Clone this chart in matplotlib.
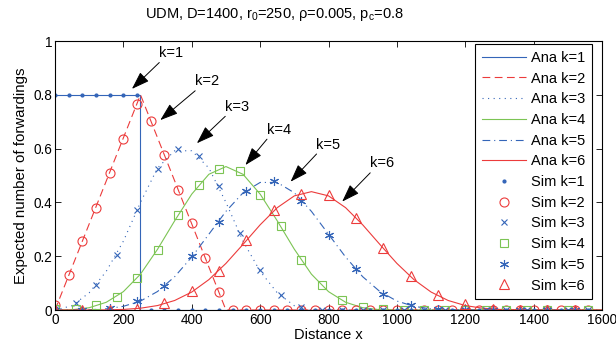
import matplotlib
matplotlib.use('Agg')
import matplotlib.pyplot as plt
import numpy as np

plt.rcParams['font.family'] = ['Liberation Sans', 'DejaVu Sans']
plt.rcParams['mathtext.fontset'] = 'custom'
plt.rcParams['mathtext.rm'] = 'Liberation Sans'
plt.rcParams['mathtext.it'] = 'Liberation Sans'

#%% analytic curves (grid of 50 m)
ana_x = np.arange(0, 1601, 50)
ana_x1 = [0, 250, 250, 1600]
ana_k1 = [0.8, 0.8, 0, 0]
ana_k2 = [0, 0.16, 0.32, 0.48, 0.64, 0.8, 0.64, 0.48, 0.32, 0.16, 0,
          0, 0, 0, 0, 0, 0, 0, 0, 0, 0, 0, 0, 0, 0, 0, 0, 0, 0, 0, 0, 0, 0]
ana_k3 = [0, 0.016, 0.064, 0.144, 0.256, 0.4, 0.528, 0.592, 0.592, 0.528, 0.4,
          0.256, 0.144, 0.064, 0.016, 0, 0, 0, 0, 0, 0, 0, 0, 0, 0, 0, 0, 0, 0, 0,
          0, 0, 0]
ana_k4 = [0, 0.0011, 0.0085, 0.0288, 0.0683, 0.1333, 0.2261, 0.3317, 0.4309, 0.5045,
          0.5333, 0.5045, 0.4309, 0.3317, 0.2261, 0.1333, 0.0683, 0.0288, 0.0085, 0.0011,
          0, 0, 0, 0, 0, 0, 0, 0, 0, 0, 0, 0, 0]
ana_k5 = [0, 0.0001, 0.0009, 0.0043, 0.0137, 0.0333, 0.0689, 0.1238, 0.1969, 0.2817,
          0.3667, 0.4358, 0.4742, 0.4742, 0.4358, 0.3667, 0.2817, 0.1969, 0.1238, 0.0689,
          0.0333, 0.0137, 0.0043, 0.0009, 0.0001, 0, 0, 0, 0, 0, 0, 0, 0]
ana_k6 = [0, 0, 0.0001, 0.0005, 0.0022, 0.0067, 0.0166, 0.0354, 0.0668, 0.1129,
          0.1733, 0.2441, 0.3167, 0.3804, 0.4243, 0.44, 0.4243, 0.3804, 0.3167, 0.2441,
          0.1733, 0.1129, 0.0668, 0.0354, 0.0166, 0.0067, 0.0022, 0.0005, 0.0001, 0, 0,
          0, 0]

#%% simulation points
sim_x12 = np.arange(0, 1561, 40)
sim_k1 = [0.8, 0.8, 0.8, 0.8, 0.8, 0.8, 0.8, 0, 0, 0, 0, 0, 0, 0, 0, 0, 0, 0, 0, 0,
          0, 0, 0, 0, 0, 0, 0, 0, 0, 0, 0, 0, 0, 0, 0, 0, 0, 0, 0, 0]
sim_k2 = [0.02, 0.13, 0.256, 0.38, 0.51, 0.637, 0.764, 0.703, 0.576, 0.447, 0.323,
          0.195, 0.067, 0, 0, 0, 0, 0, 0, 0, 0, 0, 0, 0, 0, 0, 0, 0, 0, 0, 0, 0, 0,
          0, 0, 0, 0, 0, 0, 0]
sim_x34 = np.arange(0, 1561, 60)
sim_k3 = [0.003, 0.027, 0.092, 0.205, 0.37, 0.525, 0.597, 0.573, 0.46, 0.285, 0.148,
          0.055, 0.012, 0, 0, 0, 0, 0, 0, 0, 0, 0, 0, 0, 0, 0, 0]
sim_k4 = [0.003, 0.005, 0.017, 0.05, 0.12, 0.223, 0.353, 0.463, 0.525, 0.515, 0.428,
          0.313, 0.187, 0.093, 0.038, 0.012, 0.002, 0, 0, 0, 0, 0, 0, 0, 0, 0, 0]
sim_x56 = np.arange(0, 1521, 80)
sim_k5 = [0, 0.001, 0.006, 0.032, 0.09, 0.2, 0.328, 0.443, 0.48, 0.405, 0.28, 0.152,
          0.061, 0.02, 0.004, 0, 0, 0, 0, 0]
sim_k6 = [0, 0, 0.001, 0.005, 0.025, 0.07, 0.145, 0.259, 0.372, 0.432, 0.428, 0.343,
          0.232, 0.126, 0.057, 0.022, 0.005, 0.001, 0, 0]

# arrow labels: (text, text pos, arrow head pos)
notes = [('k=1', (340, 0.955), (225, 0.822)),
         ('k=2', (445, 0.85), (308, 0.706)),
         ('k=3', (533, 0.755), (415, 0.62)),
         ('k=4', (655, 0.67), (557, 0.539)),
         ('k=5', (800, 0.615), (689, 0.477)),
         ('k=6', (957, 0.545), (840, 0.403))]

blue = '#3465b8'
red = '#ec3b3b'
green = '#7cc454'

fig = plt.figure(figsize=(6.16, 3.47), dpi=100)
ax = fig.add_axes([0.0893, 0.1066, 0.8880, 0.7752])

lw = 0.8
ax.plot(ana_x1, ana_k1, color=blue, ls='-', lw=lw, label='Ana k=1')
ax.plot(ana_x, ana_k2, color=red, ls=(0, (7, 4)), lw=lw, label='Ana k=2')
ax.plot(ana_x, ana_k3, color=blue, ls=(0, (1, 4)), lw=lw, label='Ana k=3')
ax.plot(ana_x, ana_k4, color=green, ls='-', lw=lw, label='Ana k=4')
ax.plot(ana_x, ana_k5, color=blue, ls=(0, (7, 3.5, 1, 3.5)), lw=lw, label='Ana k=5')
ax.plot(ana_x, ana_k6, color=red, ls='-', lw=lw, label='Ana k=6')

ms = 6.5
ax.plot(sim_x12, sim_k1, ls='none', marker='.', ms=4, color=blue, label='Sim k=1')
ax.plot(sim_x12, sim_k2, ls='none', marker='o', ms=ms, mfc='none', mec=red, mew=0.8,
        label='Sim k=2')
ax.plot(sim_x34, sim_k3, ls='none', marker='x', ms=5, mec=blue, mew=0.8, label='Sim k=3')
ax.plot(sim_x34, sim_k4, ls='none', marker='s', ms=5.5, mfc='none', mec=green, mew=0.8,
        label='Sim k=4')
ax.plot(sim_x56, sim_k5, ls='none', marker=(6, 2, 0), ms=6.5, mec=blue, mew=0.8,
        label='Sim k=5')
ax.plot(sim_x56, sim_k6, ls='none', marker='^', ms=7, mfc='none', mec=red, mew=0.8,
        label='Sim k=6')

for txt, tpos, hpos in notes:
    ax.annotate('', xy=hpos, xytext=(tpos[0] - 35, tpos[1] - 0.035),
                arrowprops=dict(arrowstyle='-|>,head_length=1.1,head_width=0.38',
                                color='black', lw=0.7, shrinkA=0, shrinkB=0))
    ax.text(tpos[0], tpos[1], txt, ha='center', va='center', fontsize=10.5)

ax.set_xlim(0, 1600)
ax.set_ylim(0, 1)
ax.set_xticks(np.arange(0, 1601, 200))
ax.set_yticks([0, 0.2, 0.4, 0.6, 0.8, 1])
ax.set_yticklabels(['0', '0.2', '0.4', '0.6', '0.8', '1'])
ax.tick_params(direction='in', top=True, right=True, labelsize=9.8, length=4,
               width=0.6, pad=2)
for s in ax.spines.values():
    s.set_linewidth(0.8)

ax.set_xlabel('Distance x', fontsize=10.5, labelpad=1)
ax.set_ylabel('Expected number of forwardings', fontsize=10.8, labelpad=4)
fig.text(0.446, 0.958, r'UDM, D=1400, r$_0$=250, $\rho$=0.005, p$_c$=0.8',
         ha='center', va='center', fontsize=10.5)

leg = ax.legend(loc='upper right', bbox_to_anchor=(0.982, 0.988), fontsize=10.5,
                frameon=True, fancybox=False, edgecolor='black', framealpha=1,
                handlelength=3.0, handletextpad=0.4, labelspacing=0.46,
                borderpad=0.45, borderaxespad=0)
leg.get_frame().set_linewidth(0.8)

fig.savefig('out.png', dpi=100)
